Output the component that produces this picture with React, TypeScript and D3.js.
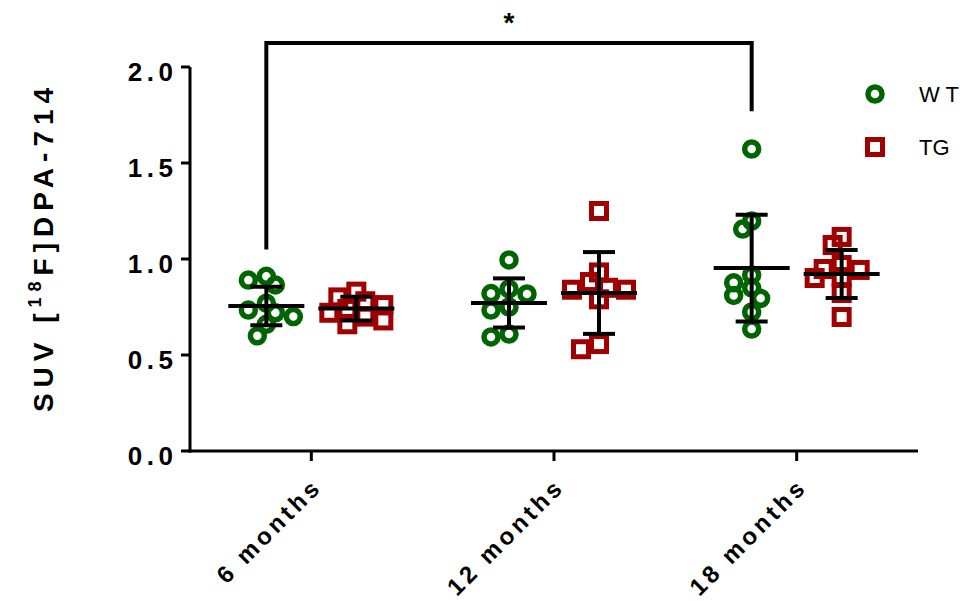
import React from 'react'
import * as d3 from 'd3'

// ages on the x axis
const categories = ['6 months', '12 months', '18 months']
const groups = ['WT', 'TG']
const legendLabels = ['W T', 'TG']

// individual SUV values
const wt6 = [0.91, 0.89, 0.865, 0.77, 0.734, 0.72, 0.7, 0.66, 0.6]
const tg6 = [0.83, 0.8, 0.78, 0.76, 0.74, 0.72, 0.7, 0.68, 0.66]
const wt12 = [0.995, 0.844, 0.82, 0.818, 0.75, 0.734, 0.609, 0.594]
const tg12 = [1.25, 0.93, 0.88, 0.85, 0.84, 0.84, 0.79, 0.557, 0.53]
const wt18 = [1.573, 1.198, 1.156, 0.917, 0.876, 0.85, 0.81, 0.795, 0.724, 0.635]
const tg18 = [1.115, 1.073, 0.969, 0.948, 0.943, 0.906, 0.901, 0.823, 0.698]

// mean and SD bars as drawn
const wtMeans = [0.755, 0.771, 0.953]
const wtSds = [0.1, 0.128, 0.278]
const tgMeans = [0.742, 0.823, 0.922]
const tgSds = [0.062, 0.213, 0.125]

const yTicks = [0, 0.5, 1.0, 1.5, 2.0]

const GREEN = '#006400'
const RED = '#a00000'

// simple scatter layout: spread points sideways only when they collide
function swarm(values, cx, y) {
  const placed = []
  const sorted = [...values].sort((a, b) => b - a)
  const step = 9
  const minDist = 12
  for (const v of sorted) {
    const py = y(v)
    let off = 0
    for (let k = 0; k < 40; k++) {
      const cand = k === 0 ? 0 : (k % 2 === 1 ? -1 : 1) * Math.ceil(k / 2) * step
      const ok = placed.every((p) => Math.hypot(p.x - (cx + cand), p.y - py) >= minDist)
      if (ok) {
        off = cand
        break
      }
    }
    placed.push({ x: cx + off, y: py, v })
  }
  return placed
}

export default function App() {
  const width = 967
  const height = 601
  const x = d3.scaleBand().domain(categories).range([190, 918]).padding(0)
  const sub = d3.scalePoint().domain(groups).range([-45, 45])
  const y = d3.scaleLinear().domain([0, 2]).range([451, 67])

  const data = {
    WT: [wt6, wt12, wt18],
    TG: [tg6, tg12, tg18],
  }
  const means = { WT: wtMeans, TG: tgMeans }
  const sds = { WT: wtSds, TG: tgSds }

  const font = '"Liberation Sans", Arial, sans-serif'

  const cxOf = (cat, g) => x(cat) + x.bandwidth() / 2 + sub(g)

  const marker = (g, px, py, key) =>
    g === 'WT' ? (
      <circle key={key} cx={px} cy={py} r={7} fill="none" stroke={GREEN} strokeWidth={5.5} />
    ) : (
      <rect key={key} x={px - 7.5} y={py - 7.5} width={15} height={15} fill="none" stroke={RED} strokeWidth={5} />
    )

  // significance bracket between 6 months WT and 18 months WT
  const bx1 = cxOf(categories[0], 'WT')
  const bx2 = cxOf(categories[2], 'WT')

  return (
    <svg width={width} height={height} style={{ position: 'absolute', left: 0, top: 0, background: '#fff' }}>
      {/* y axis */}
      <line x1={190} x2={190} y1={y(2)} y2={y(0) + 1.5} stroke="#000" strokeWidth={3} />
      {yTicks.map((t) => (
        <g key={t}>
          <line x1={181} x2={190} y1={y(t)} y2={y(t)} stroke="#000" strokeWidth={3} />
          <text
            x={173 + 4.5}
            y={y(t) + 14}
            textAnchor="end"
            fontFamily={font}
            fontWeight="bold"
            fontSize={26}
            letterSpacing={4.5}
          >
            {t.toFixed(1)}
          </text>
        </g>
      ))}
      <text
        transform={`translate(53, 247) rotate(-90)`}
        textAnchor="middle"
        fontFamily={font}
        fontWeight="bold"
        fontSize={28}
        letterSpacing={6}
      >
        SUV [<tspan dy={-12} fontSize={18}>18</tspan>
        <tspan dy={12}>F]DPA-714</tspan>
      </text>

      {/* x axis */}
      <line x1={188.5} x2={918} y1={y(0)} y2={y(0)} stroke="#000" strokeWidth={3} />
      {categories.map((c) => {
        const cx = x(c) + x.bandwidth() / 2
        return (
          <g key={c}>
            <line x1={cx} x2={cx} y1={y(0)} y2={y(0) + 10} stroke="#000" strokeWidth={3} />
            <text
              transform={`translate(${cx + 12}, 488) rotate(-45)`}
              textAnchor="end"
              fontFamily={font}
              fontWeight="bold"
              fontSize={24}
              letterSpacing={3.8}
            >
              {c}
            </text>
          </g>
        )
      })}

      {/* points */}
      {groups.map((g) =>
        categories.map((c, i) =>
          swarm(data[g][i], cxOf(c, g), y).map((p, j) => marker(g, p.x, p.y, `${g}-${c}-${j}`))
        )
      )}

      {/* mean and SD */}
      {groups.map((g) =>
        categories.map((c, i) => {
          const cx = cxOf(c, g)
          const m = means[g][i]
          const s = sds[g][i]
          return (
            <g key={`${g}-${c}-bar`} stroke="#000" strokeWidth={4}>
              <line x1={cx - 38} x2={cx + 38} y1={y(m)} y2={y(m)} />
              <line x1={cx} x2={cx} y1={y(m + s)} y2={y(m - s)} />
              <line x1={cx - 16} x2={cx + 16} y1={y(m + s)} y2={y(m + s)} />
              <line x1={cx - 16} x2={cx + 16} y1={y(m - s)} y2={y(m - s)} />
            </g>
          )
        })
      )}

      {/* significance bracket */}
      <path
        d={`M${bx1},${y(1.05)} V43 H${bx2} V${y(1.77)}`}
        fill="none"
        stroke="#000"
        strokeWidth={4}
      />
      <text x={(bx1 + bx2) / 2} y={32} textAnchor="middle" fontFamily={font} fontWeight="bold" fontSize={28}>
        *
      </text>

      {/* legend */}
      {groups.map((g, i) => (
        <g key={g}>
          {marker(g, 875, 94 + i * 53, `leg-${g}`)}
          <text x={919} y={102 + i * 53} fontFamily={font} fontSize={22}>
            {legendLabels[i]}
          </text>
        </g>
      ))}
    </svg>
  )
}
